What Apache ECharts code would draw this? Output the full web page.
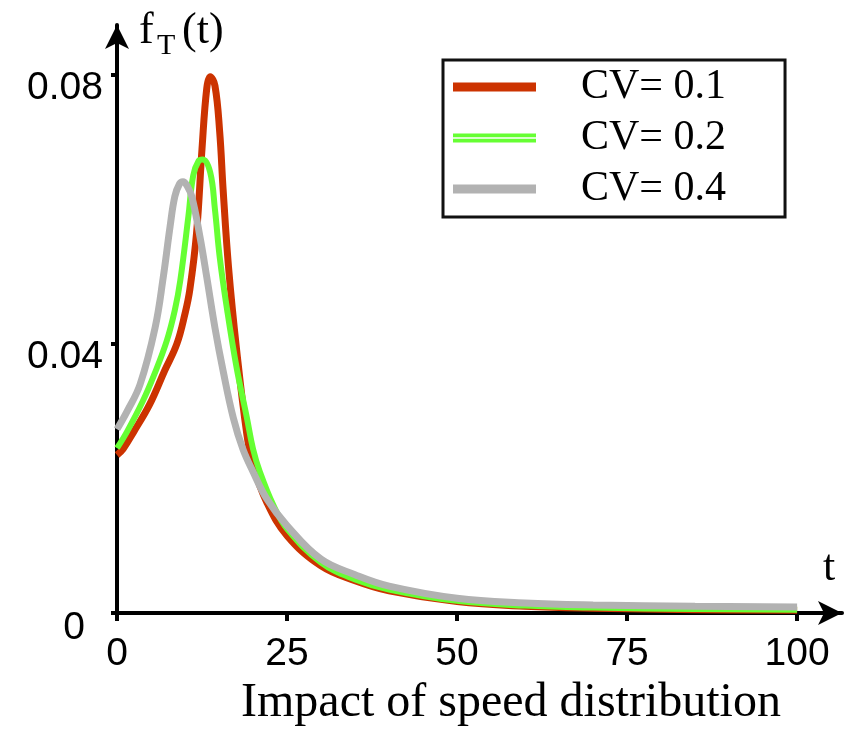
<!DOCTYPE html>
<html>
<head>
<meta charset="utf-8">
<script src="https://cdn.jsdelivr.net/npm/echarts@6/dist/echarts.min.js"></script>
<style>
  html, body { margin: 0; padding: 0; background: #fff; }
  #main { width: 847px; height: 737px; }
</style>
</head>
<body>
<div id="main"></div>
<script>
// data
var seriesNames = ['CV= 0.1', 'CV= 0.2', 'CV= 0.4'];
var xTicks = [0, 25, 50, 75, 100];
var yTicks = [0, 0.04, 0.08];

var tRed = [0, 0.9, 2.5, 4.8, 7, 8.8, 10, 10.7, 11.7, 12.5, 13.2, 13.7, 14.4, 15.1, 15.6, 16.4, 17.6, 19.1, 20, 22, 25, 30, 35, 40, 50, 60, 70, 85, 100];
var vRed = [0.0235, 0.0244, 0.027, 0.031, 0.036, 0.040, 0.0445, 0.048, 0.0565, 0.069, 0.078, 0.0797, 0.0784, 0.0715, 0.063, 0.0514, 0.039, 0.0265, 0.022, 0.0165, 0.0115, 0.007, 0.0048, 0.0033, 0.0017, 0.001, 0.0007, 0.0005, 0.0004];

var tGreen = [0, 1.5, 3.8, 5.5, 7.3, 8.5, 9.3, 10.5, 11.2, 12, 12.6, 13.7, 14.4, 15.1, 16.2, 17.6, 19.1, 20, 21, 23, 25, 30, 35, 40, 50, 60, 70, 85, 100];
var vGreen = [0.0245, 0.027, 0.0315, 0.0355, 0.0404, 0.045, 0.0494, 0.059, 0.065, 0.0672, 0.0674, 0.0655, 0.060, 0.0529, 0.045, 0.0364, 0.029, 0.0244, 0.021, 0.016, 0.0125, 0.0075, 0.005, 0.0035, 0.0018, 0.0011, 0.0008, 0.0006, 0.0005];

var tGray = [0, 1.5, 3.4, 5.6, 6.8, 7.8, 8.5, 9.2, 9.7, 10.3, 11, 12.2, 13.2, 14.4, 15.6, 17.1, 18.5, 20, 22, 25, 30, 35, 40, 50, 60, 70, 85, 100];
var vGray = [0.0273, 0.030, 0.034, 0.0424, 0.0499, 0.0574, 0.0619, 0.0638, 0.0641, 0.0635, 0.0619, 0.0559, 0.0499, 0.0424, 0.036, 0.029, 0.0244, 0.021, 0.017, 0.013, 0.008, 0.0057, 0.004, 0.0022, 0.0015, 0.0012, 0.001, 0.0009];

function pairs(t, v) {
  return t.map(function (x, i) { return [x, v[i]]; });
}

var serif = '"Liberation Serif", "DejaVu Serif", serif';
var sans = '"Liberation Sans", Arial, sans-serif';

var chart = echarts.init(document.getElementById('main'));
var option = {
  animation: false,
  backgroundColor: '#fff',
  grid: { left: 117, top: 25, width: 725, height: 588 },
  title: {
    text: 'Impact of speed distribution',
    left: 236, top: 674,
    textStyle: { fontFamily: serif, fontSize: 48, fontWeight: 'normal', color: '#000' }
  },
  legend: {
    orient: 'vertical',
    left: 443, top: 60,
    padding: [6, 59, 7, 10],
    borderColor: '#111', borderWidth: 3,
    itemWidth: 83, itemHeight: 9,
    itemGap: 9,
    textStyle: { fontFamily: serif, fontSize: 42, color: '#000', padding: [0, 0, 0, 40], lineHeight: 42 },
    data: [
      { name: seriesNames[0], icon: 'rect' },
      { name: seriesNames[1], icon: 'path://M0,0H83V3.8H0ZM0,5.2H83V9H0Z' },
      { name: seriesNames[2], icon: 'rect' }
    ]
  },
  xAxis: {
    type: 'value',
    min: 0, max: 106.6,
    axisLine: { onZero: false, lineStyle: { color: '#000', width: 4 }, symbol: ['none', 'arrow'], symbolSize: [18, 24] },
    axisTick: { customValues: xTicks, length: 8, lineStyle: { color: '#000', width: 4 } },
    axisLabel: { customValues: xTicks, margin: 22, fontFamily: sans, fontSize: 39, color: '#000' },
    splitLine: { show: false }
  },
  yAxis: {
    type: 'value',
    min: 0, max: 0.0874,
    axisLine: { onZero: false, lineStyle: { color: '#000', width: 4 }, symbol: ['none', 'arrow'], symbolSize: [18, 24] },
    axisTick: { customValues: yTicks, length: 6, lineStyle: { color: '#000', width: 4 } },
    axisLabel: {
      customValues: yTicks, margin: 8,
      formatter: function (v) {
        return v === 0 ? '{z|0}' : '{a|' + v.toFixed(2) + '}';
      },
      rich: {
        a: { fontFamily: sans, fontSize: 39, color: '#000', padding: [26, 6, 0, 0] },
        z: { fontFamily: sans, fontSize: 39, color: '#000', padding: [30, 24, 0, 0] }
      }
    },
    splitLine: { show: false }
  },
  graphic: [
    { type: 'text', left: 139, top: 9, style: { text: 'f', font: '44px ' + serif, fill: '#000' } },
    { type: 'text', left: 157, top: 31, style: { text: 'T', font: '30px ' + serif, fill: '#000' } },
    { type: 'text', left: 182, top: 9, style: { text: '(t)', font: '44px ' + serif, fill: '#000' } },
    { type: 'text', left: 823, top: 546, style: { text: 't', font: '44px ' + serif, fill: '#000' } }
  ],
  series: [
    {
      name: seriesNames[0], type: 'line', data: pairs(tRed, vRed),
      showSymbol: false, smooth: 0.4,
      lineStyle: { color: '#CC3300', width: 7 }, itemStyle: { color: '#CC3300' }
    },
    {
      name: seriesNames[1], type: 'line', data: pairs(tGreen, vGreen),
      showSymbol: false, smooth: 0.4,
      lineStyle: { color: '#66FF33', width: 6 }, itemStyle: { color: '#66FF33' }
    },
    {
      name: seriesNames[2], type: 'line', data: pairs(tGray, vGray),
      showSymbol: false, smooth: 0.4,
      lineStyle: { color: '#B2B2B2', width: 7 }, itemStyle: { color: '#B2B2B2' }
    }
  ]
};
chart.setOption(option);
</script>
</body>
</html>
